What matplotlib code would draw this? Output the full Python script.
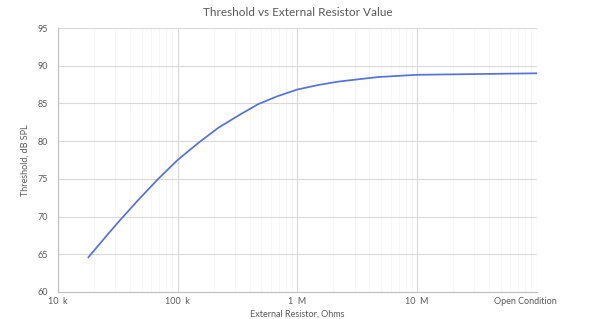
import numpy as np
import matplotlib.pyplot as plt
import matplotlib.transforms as mtransforms
from matplotlib.ticker import FixedLocator, NullFormatter

# resistor values (ohms); "Open Condition" placed at 100 M on the log axis
resistor = [18e3, 27e3, 33e3, 47e3, 68e3, 100e3, 150e3, 220e3, 330e3, 470e3,
            680e3, 1e6, 1.5e6, 2.2e6, 4.7e6, 10e6, 100e6]
threshold = [64.6, 67.9, 69.5, 72.2, 74.9, 77.5, 79.8, 81.8, 83.5, 84.9,
             85.95, 86.85, 87.45, 87.9, 88.5, 88.8, 89.0]

tick_pos = [1e4, 1e5, 1e6, 1e7, 1e8]
tick_lbl = ["10  k", "100  k", "1  M", "10  M", "Open Condition"]

plt.rcParams['font.family'] = ['Lato', 'DejaVu Sans']
txt = '#595959'

fig = plt.figure(figsize=(5.9, 3.19), dpi=100)
ax = fig.add_axes([0.098, 0.085, 0.812, 0.827])

ax.plot(resistor, threshold, '-', color='#5671d8', lw=1.25)

ax.set_xscale('log')
ax.set_xlim(1e4, 1e8)
ax.set_ylim(60, 95)
ax.set_yticks(np.arange(60, 96, 5))
ax.set_xticks(tick_pos)
ax.set_xticklabels(tick_lbl)
minors = [m * 10**e for e in range(4, 8) for m in range(2, 10)]
ax.xaxis.set_minor_locator(FixedLocator(minors))
ax.xaxis.set_minor_formatter(NullFormatter())

ax.grid(True, which='major', color='#d9d9d9', lw=0.8)
ax.grid(True, which='minor', axis='x', color='#f6f6f6', lw=0.6)
ax.set_axisbelow(True)
for s in ['top', 'right']:
    ax.spines[s].set_visible(False)
for s in ['left', 'bottom']:
    ax.spines[s].set_color('#bfbfbf')
    ax.spines[s].set_linewidth(0.8)
ax.tick_params(which='both', length=0, labelsize=6.5, colors=txt)
ax.tick_params(axis='x', pad=4)
ax.tick_params(axis='y', pad=7)

# last label sits a little left of its tick in the original
lbl = ax.get_xticklabels()[-1]
lbl.set_transform(lbl.get_transform() +
                  mtransforms.ScaledTranslation(-0.12, 0, fig.dpi_scale_trans))

ax.set_title('Threshold vs External Resistor Value', fontsize=8.5, color=txt, pad=9)
ax.set_xlabel('External Resistor, Ohms', fontsize=6.5, color=txt, labelpad=2)
ax.set_ylabel('Threshold, dB SPL', fontsize=6.5, color=txt, labelpad=6)

fig.savefig('out.png', dpi=100)
